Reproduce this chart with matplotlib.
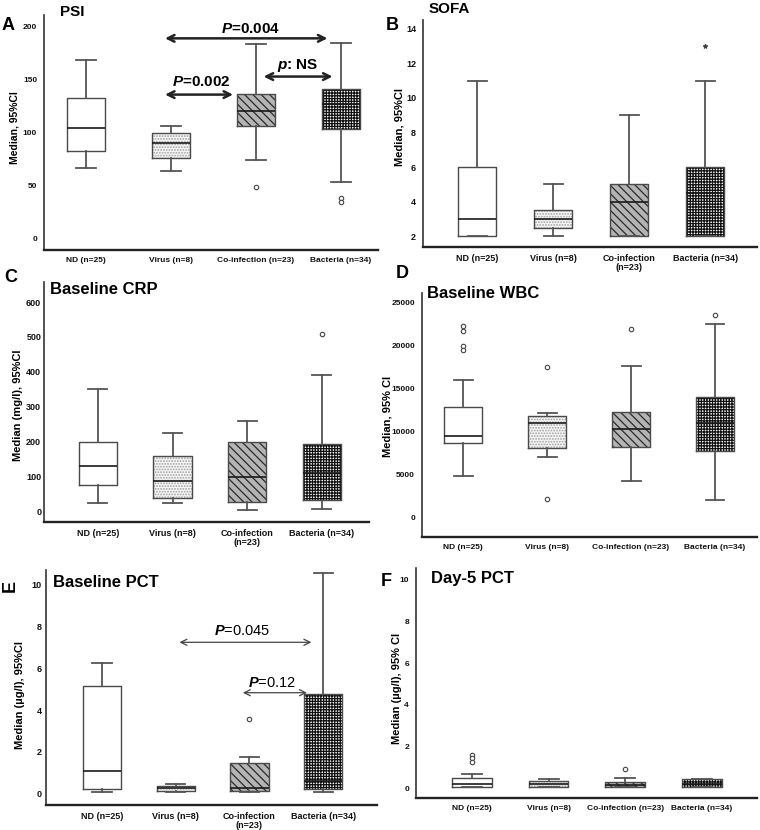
import matplotlib
matplotlib.use("Agg")
import matplotlib.pyplot as plt

plt.rcParams['font.family'] = ['Liberation Sans', 'DejaVu Sans']
plt.rcParams['mathtext.fontset'] = 'custom'
plt.rcParams['mathtext.it'] = 'Liberation Sans:italic:bold'
plt.rcParams['mathtext.rm'] = 'Liberation Sans'
plt.rcParams['hatch.linewidth'] = 0.9

# groups
groups = ["ND (n=25)", "Virus (n=8)", "Co-infection (n=23)", "Bacteria (n=34)"]
groups_wrapped = ["ND (n=25)", "Virus (n=8)", "Co-infection\n(n=23)", "Bacteria (n=34)"]

# box stats per group: (whisker low, q1, median, q3, whisker high)
psi_stats = [(67, 83, 105, 133, 169), (64, 76, 90, 100, 106),
             (74, 106, 121, 137, 184), (54, 104, 127, 141, 185)]
psi_fliers = [[], [], [49], [39, 35]]

sofa_stats = [(2, 2, 3, 6, 11), (2, 2.5, 3, 3.5, 5),
              (2, 2, 4, 5, 9), (2, 2, 4.5, 6, 11)]
sofa_fliers = [[], [], [], [13]]

crp_stats = [(22, 75, 128, 197, 351), (22, 36, 85, 159, 223),
             (3, 25, 98, 199, 258), (5, 33, 110, 192, 392)]
crp_fliers = [[], [], [], [510]]

wbc_stats = [(4800, 8700, 9500, 12900, 16000), (7000, 8100, 11000, 11800, 12100),
             (4300, 8200, 10300, 12300, 17600), (2000, 7700, 11000, 14000, 22450)]
wbc_fliers = [[22200, 21700, 19900, 19500], [17450, 2200], [21900], [23500]]

pct_stats = [(0.05, 0.22, 1.09, 5.15, 6.24), (0.08, 0.13, 0.24, 0.37, 0.45),
             (0.05, 0.13, 0.24, 1.44, 1.73), (0.05, 0.22, 0.6, 4.78, 10.56)]
pct_fliers = [[], [], [3.58], []]

pct5_stats = [(0.05, 0.08, 0.22, 0.51, 0.69), (0.06, 0.08, 0.19, 0.34, 0.42),
              (0.05, 0.08, 0.16, 0.3, 0.48), (0.06, 0.08, 0.19, 0.43, 0.46)]
pct5_fliers = [[1.6, 1.44, 1.25], [], [0.91], []]

# fill styles per group
fills = ['white', '#f7f7f7', '#b4b4b4', 'white']
hatches = [None, '......', '\\' * 4, '+' * 6]
hatch_cols = ['#444444', '#a0a0a0', '#2a2a2a', '#111111']

W, H = 760, 830
fig = plt.figure(figsize=(7.6, 8.3), dpi=100)


def px_axes(l, r, t, b):
    return fig.add_axes([l / W, 1 - b / H, (r - l) / W, (b - t) / H])


def ftext(x, y, s, **kw):
    fig.text(x / W, 1 - y / H, s, **kw)


narrow = ['Liberation Sans Narrow', 'Liberation Sans', 'DejaVu Sans']


def draw_panel(ax, stats, fliers, labels, xlim, ylim, yticks, width,
               flier_marker='o', tick_size=7, narrow_ticks=False, ypad=5):
    bxp_stats = []
    for (lo, q1, med, q3, hi), fl in zip(stats, fliers):
        bxp_stats.append({'whislo': lo, 'q1': q1, 'med': med, 'q3': q3,
                          'whishi': hi, 'fliers': fl})
    for i, s in enumerate(bxp_stats):
        ax.bar(i, s['q3'] - s['q1'], bottom=s['q1'], width=width,
               facecolor=fills[i], edgecolor=hatch_cols[i], hatch=hatches[i],
               linewidth=0, zorder=1)
    ax.bxp(bxp_stats, positions=range(4), widths=width, capwidths=width * 0.5,
           manage_ticks=False,
           boxprops=dict(color='#4a4a4a', linewidth=1.0),
           whiskerprops=dict(color='#555555', linewidth=1.3),
           capprops=dict(color='#555555', linewidth=1.3),
           medianprops=dict(color='#1a1a1a', linewidth=1.2),
           flierprops=dict(marker=flier_marker, markersize=3.2,
                           markerfacecolor='white' if flier_marker == 'o' else '#333333',
                           markeredgecolor='#444444', markeredgewidth=0.8))
    ax.set_xlim(*xlim)
    ax.set_ylim(*ylim)
    ax.set_yticks(yticks)
    ax.set_xticks(range(4))
    fam = narrow if narrow_ticks else ['Liberation Sans', 'DejaVu Sans']
    ax.set_xticklabels(labels, fontsize=tick_size, family=fam, linespacing=0.95,
                       fontweight='bold')
    ax.set_yticklabels([f"{t:g}" for t in yticks], fontsize=tick_size,
                       family=fam, fontweight='bold')
    ax.tick_params(length=0, pad=5, colors='#111111')
    ax.tick_params(axis='y', pad=ypad)
    ax.spines['top'].set_visible(False)
    ax.spines['right'].set_visible(False)
    ax.spines['left'].set_linewidth(1.2)
    ax.spines['left'].set_color('#333333')
    ax.spines['bottom'].set_linewidth(1.7)
    ax.spines['bottom'].set_color('#222222')


# Panel A - PSI
axA = px_axes(44, 378, 15, 250)
draw_panel(axA, psi_stats, psi_fliers, groups, (-0.494, 3.435), (-10.4, 211),
           [0, 50, 100, 150, 200], 0.45, tick_size=6, narrow_ticks=True)
thick = dict(arrowstyle='<->', lw=1.8, color='#222222', mutation_scale=12,
             shrinkA=0, shrinkB=0)
axA.annotate('', xy=(2.84, 189), xytext=(0.93, 189), arrowprops=thick)
axA.annotate('', xy=(1.73, 136), xytext=(0.93, 136), arrowprops=thick)
axA.annotate('', xy=(2.9, 153), xytext=(2.09, 153), arrowprops=thick)
axA.text(1.94, 198, r'$P$=0.004', ha='center', va='center', fontsize=11, fontweight='bold')
axA.text(1.36, 148, r'$P$=0.002', ha='center', va='center', fontsize=11, fontweight='bold')
axA.text(2.49, 163.5, r'$p$: NS', ha='center', va='center', fontsize=11, fontweight='bold')

# Panel B - SOFA
axB = px_axes(423, 757, 20, 247)
draw_panel(axB, sofa_stats, sofa_fliers, groups_wrapped, (-0.71, 3.68), (1.39, 14.5),
           [2, 4, 6, 8, 10, 12, 14], 0.5, flier_marker='*', tick_size=6.5)

# Panel C - CRP
axC = px_axes(44, 369, 282, 522)
draw_panel(axC, crp_stats, crp_fliers, groups_wrapped, (-0.72, 3.63), (-31.6, 658),
           [0, 100, 200, 300, 400, 500, 600], 0.51, tick_size=6.5, ypad=2)

# Panel D - WBC
axD = px_axes(422, 757, 293, 537)
draw_panel(axD, wbc_stats, wbc_fliers, groups, (-0.49, 3.5), (-2240, 26080),
           [0, 5000, 10000, 15000, 20000, 25000], 0.45, tick_size=6, narrow_ticks=True)

# Panel E - baseline PCT
axE = px_axes(46, 377, 570, 805)
draw_panel(axE, pct_stats, pct_fliers, groups_wrapped, (-0.76, 3.73), (-0.56, 10.72),
           [0, 2, 4, 6, 8, 10], 0.52, tick_size=6.5, ypad=3)
thin = dict(arrowstyle='<->', lw=0.9, color='#444444', mutation_scale=11,
            shrinkA=0, shrinkB=0)
axE.annotate('', xy=(2.84, 7.25), xytext=(1.05, 7.25), arrowprops=thin)
axE.annotate('', xy=(2.78, 4.83), xytext=(1.91, 4.83), arrowprops=thin)
axE.text(1.9, 7.8, r'$P$=0.045', ha='center', va='center', fontsize=10.5)
axE.text(2.31, 5.31, r'$P$=0.12', ha='center', va='center', fontsize=10.5)

# Panel F - day-5 PCT
axF = px_axes(416, 757, 568, 798)
draw_panel(axF, pct5_stats, pct5_fliers, groups, (-0.73, 3.72), (-0.47, 10.56),
           [0, 2, 4, 6, 8, 10], 0.52, tick_size=6, narrow_ticks=True)

# titles
for x, y, s, fs in [(60, 12, 'PSI', 11), (429, 9, 'SOFA', 11),
                    (50, 290, 'Baseline CRP', 12), (427, 293, 'Baseline WBC', 12),
                    (53, 582, 'Baseline PCT', 12), (431, 578, 'Day-5 PCT', 12)]:
    ftext(x, y, s, ha='left', va='center', fontsize=fs, fontweight='bold')

# panel letters
for x, y, s, rot in [(8, 25, 'A', 0), (392, 26, 'B', 0), (11, 277, 'C', 0),
                     (402, 274, 'D', 0), (10, 586, 'E', 90), (386, 581, 'F', 0)]:
    ftext(x, y, s, ha='center', va='center', fontsize=13, fontweight='bold', rotation=rot)

# y labels
for x, y, s, fs in [(15, 128, 'Median, 95%CI', 7.5), (399, 127, 'Median, 95%CI', 8),
                    (18, 405, 'Median (mg/l), 95%CI', 8), (388, 416, 'Median, 95% CI', 8),
                    (20, 695, 'Median (µg/l), 95%CI', 8), (397, 688, 'Median (µg/l), 95% CI', 8)]:
    ftext(x, y, s, ha='center', va='center', fontsize=fs, fontweight='bold', rotation=90)

fig.savefig('out.png', dpi=100)
